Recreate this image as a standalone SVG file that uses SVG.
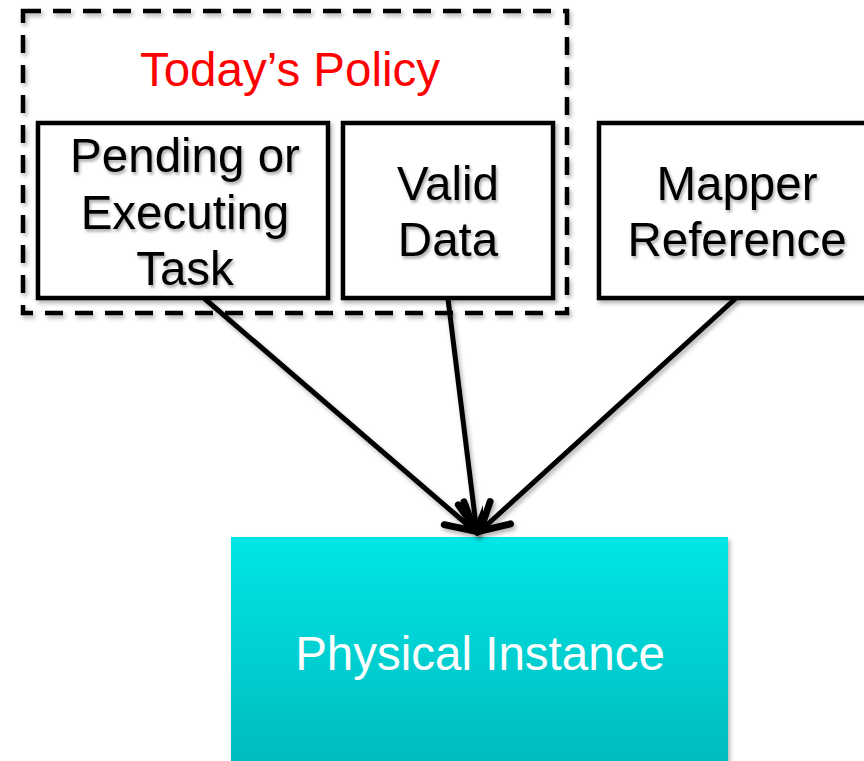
<svg xmlns="http://www.w3.org/2000/svg" width="864" height="761" viewBox="0 0 864 761">
  <defs>
    <style>
      text { font-family: "Liberation Sans", Arial, sans-serif; font-size: 47.5px; text-anchor: middle; }
      .lbl { fill: #000; filter: url(#tshadow); }
      .box { fill: #fff; stroke: #000; stroke-width: 4.5; filter: url(#bshadow); }
      .edge { fill: none; stroke: #000; stroke-width: 5; stroke-linecap: round; marker-end: url(#arrow); filter: url(#bshadow); }
    </style>
    <filter id="tshadow" x="-10%" y="-20%" width="130%" height="150%">
      <feDropShadow dx="1.5" dy="2.5" stdDeviation="1.5" flood-color="#000" flood-opacity="0.35"/>
    </filter>
    <filter id="bshadow" x="-10%" y="-10%" width="130%" height="130%">
      <feDropShadow dx="2" dy="3" stdDeviation="2" flood-color="#000" flood-opacity="0.3"/>
    </filter>
    <linearGradient id="cyan" x1="0" y1="0" x2="0" y2="1">
      <stop offset="0" stop-color="#00e6e6"/>
      <stop offset="1" stop-color="#00b9bd"/>
    </linearGradient>
    <!-- open V arrowhead with rounded barbs -->
    <marker id="arrow" markerUnits="userSpaceOnUse" markerWidth="44" markerHeight="44" refX="2" refY="0" viewBox="-24 -16 30 32" orient="auto">
      <path d="M-20,-11 L0,0 L-20,11" fill="none" stroke="#000" stroke-width="5" stroke-linecap="round" stroke-linejoin="round"/>
    </marker>
  </defs>

  <rect width="864" height="761" fill="#fff"/>

  <!-- policy group outline -->
  <g id="policy">
    <rect x="23" y="11" width="544" height="302" fill="none" stroke="#000" stroke-width="4.5" stroke-dasharray="18,12" filter="url(#bshadow)"/>
    <text x="290" y="86" fill="#ff0000">Today’s Policy</text>
  </g>

  <g id="pending">
    <rect class="box" x="38" y="123" width="290" height="175"/>
    <text class="lbl" x="185" y="172">Pending or</text>
    <text class="lbl" x="185" y="229">Executing</text>
    <text class="lbl" x="185" y="285">Task</text>
  </g>

  <g id="valid">
    <rect class="box" x="343" y="123" width="210" height="175"/>
    <text class="lbl" x="448" y="200">Valid</text>
    <text class="lbl" x="448" y="256">Data</text>
  </g>

  <g id="mapper">
    <rect class="box" x="599" y="123" width="280" height="175"/>
    <text class="lbl" x="737" y="200">Mapper</text>
    <text class="lbl" x="737" y="256">Reference</text>
  </g>

  <g id="instance">
    <rect x="231" y="537" width="497" height="240" fill="url(#cyan)" filter="url(#bshadow)"/>
    <text x="480" y="670" fill="#fff">Physical Instance</text>
  </g>

  <g id="connectors">
    <line class="edge" x1="205" y1="299" x2="477" y2="533"/>
    <line class="edge" x1="448" y1="299" x2="477" y2="533"/>
    <line class="edge" x1="735" y1="299" x2="478" y2="533"/>
  </g>
</svg>
